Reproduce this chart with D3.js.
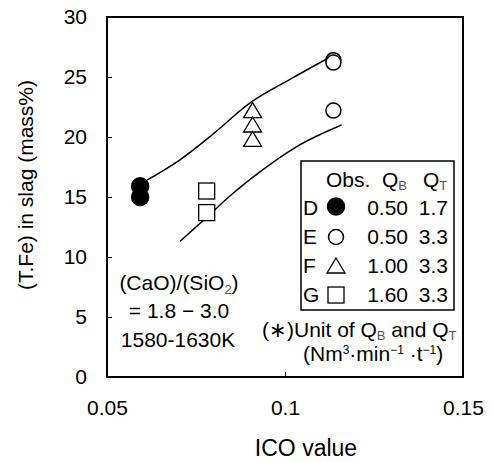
<!DOCTYPE html>
<html>
<head>
<meta charset="utf-8">
<script src="https://cdn.jsdelivr.net/npm/d3@7"></script>
<style>
  body { margin: 0; background: #fff; }
  svg text { font-family: "Liberation Sans", Arial, sans-serif; fill: #000; }
</style>
</head>
<body>
<script>
// observed points, ICO value vs (T.Fe) mass%
var obsD = [[0.0593, 15.9], [0.0593, 15.0]];
var obsE = [[0.1136, 26.4], [0.1136, 26.2], [0.1136, 22.2]];
var obsF = [[0.0909, 22.2], [0.0909, 21.0], [0.0909, 19.8]];
var obsG = [[0.078, 15.5], [0.078, 13.7]];

// fitted curves
var upperCurve = [[0.0612, 16.4], [0.0705, 18.1], [0.080, 20.3], [0.090, 22.8], [0.1014, 24.8], [0.1117, 26.5]];
var lowerCurve = [[0.0705, 11.3], [0.078, 13.3], [0.0846, 15.1], [0.0939, 17.3], [0.1033, 19.2], [0.1159, 21.0]];

var xTicks = [0.05, 0.1, 0.15];
var yTicks = [0, 5, 10, 15, 20, 25, 30];

var legendRows = [
  {id: "D", shape: "filled", qb: "0.50", qt: "1.7"},
  {id: "E", shape: "circle", qb: "0.50", qt: "3.3"},
  {id: "F", shape: "triangle", qb: "1.00", qt: "3.3"},
  {id: "G", shape: "square", qb: "1.60", qt: "3.3"}
];

var margin = {top: 17, right: 30, bottom: 85, left: 107},
    width = 493 - margin.left - margin.right,
    height = 462 - margin.top - margin.bottom;

var svg = d3.select("body").append("svg")
    .attr("width", 493)
    .attr("height", 462);

var g = svg.append("g")
    .attr("transform", "translate(" + margin.left + "," + margin.top + ")");

var x = d3.scaleLinear().domain([0.05, 0.15]).range([0, width]);
var y = d3.scaleLinear().domain([0, 30]).range([height, 0]);

// axes with inward ticks
var yAxis = g.append("g")
    .call(d3.axisLeft(y).tickValues(yTicks).tickSize(-5).tickSizeOuter(0).tickPadding(20));
yAxis.select(".domain").remove();
yAxis.selectAll("text").style("font-size", "21px");

var xAxis = g.append("g")
    .attr("transform", "translate(0," + height + ")")
    .call(d3.axisBottom(x).tickValues(xTicks).tickFormat(function(d) { return String(d); })
      .tickSize(-5).tickSizeOuter(0).tickPadding(23));
xAxis.select(".domain").remove();
xAxis.selectAll("text").style("font-size", "21px");

// frame
g.append("rect")
    .attr("width", width)
    .attr("height", height)
    .attr("fill", "none")
    .attr("stroke", "#000")
    .attr("stroke-width", 2);

// curves
var line = d3.line()
    .x(function(d) { return x(d[0]); })
    .y(function(d) { return y(d[1]); })
    .curve(d3.curveMonotoneX);

g.selectAll(".curve")
    .data([upperCurve, lowerCurve])
  .enter().append("path")
    .attr("class", "curve")
    .attr("d", line)
    .attr("fill", "none")
    .attr("stroke", "#000")
    .attr("stroke-width", 1.5);

// markers
function drawMarker(sel, shape) {
  if (shape === "filled" || shape === "circle") {
    sel.append("circle")
      .attr("r", shape === "filled" ? 8.5 : 7.5)
      .attr("fill", shape === "filled" ? "#000" : "#fff")
      .attr("stroke", "#000")
      .attr("stroke-width", 1.5);
  } else if (shape === "triangle") {
    sel.append("path")
      .attr("d", "M0,-8L9,7L-9,7Z")
      .attr("fill", "#fff")
      .attr("stroke", "#000")
      .attr("stroke-width", 1.3);
  } else {
    sel.append("rect")
      .attr("x", -8).attr("y", -8)
      .attr("width", 16).attr("height", 16)
      .attr("fill", "#fff")
      .attr("stroke", "#000")
      .attr("stroke-width", 1.3);
  }
}

[[obsG, "square"], [obsF, "triangle"], [obsE, "circle"], [obsD, "filled"]].forEach(function(s) {
  g.append("g").selectAll("g")
      .data(s[0])
    .enter().append("g")
      .attr("transform", function(d) { return "translate(" + x(d[0]) + "," + y(d[1]) + ")"; })
      .each(function() { drawMarker(d3.select(this), s[1]); });
});

// axis titles
svg.append("text")
    .attr("x", 306)
    .attr("y", 456)
    .attr("text-anchor", "middle")
    .style("font-size", "23px")
    .text("ICO value");

svg.append("text")
    .attr("transform", "translate(33,185) rotate(-90)")
    .attr("text-anchor", "middle")
    .style("font-size", "21px")
    .text("(T.Fe) in slag (mass%)");

// conditions note
var note = svg.append("g").style("font-size", "21px");
var t1 = note.append("text").attr("x", 179).attr("y", 290).attr("text-anchor", "middle");
t1.append("tspan").text("(CaO)/(SiO");
t1.append("tspan").attr("dy", 4).style("font-size", "13px").attr("fill", "#555").text("2");
t1.append("tspan").attr("dy", -4).text(")");
note.append("text").attr("x", 179).attr("y", 318).attr("text-anchor", "middle").text("= 1.8 \u2212 3.0");
note.append("text").attr("x", 178).attr("y", 347).attr("text-anchor", "middle").text("1580-1630K");

// legend table
var lg = svg.append("g").style("font-size", "21px");
lg.append("rect")
    .attr("x", 301).attr("y", 161)
    .attr("width", 153).attr("height", 149)
    .attr("fill", "#fff")
    .attr("stroke", "#000")
    .attr("stroke-width", 1.5);

lg.append("text").attr("x", 326).attr("y", 187).text("Obs.");
var qb = lg.append("text").attr("x", 382).attr("y", 187);
qb.append("tspan").text("Q");
qb.append("tspan").attr("dy", 3).style("font-size", "13px").attr("fill", "#555").text("B");
var qt = lg.append("text").attr("x", 423).attr("y", 187);
qt.append("tspan").text("Q");
qt.append("tspan").attr("dy", 3).style("font-size", "13px").attr("fill", "#555").text("T");

var row = lg.selectAll(".row")
    .data(legendRows)
  .enter().append("g")
    .attr("class", "row")
    .attr("transform", function(d, i) { return "translate(0," + (215 + i * 29) + ")"; });

row.append("text").attr("x", 303).text(function(d) { return d.id; });
row.append("g")
    .attr("transform", function(d) { return "translate(336," + (d.shape === "filled" ? -8.5 : -7) + ")"; })
    .each(function(d) { drawMarker(d3.select(this), d.shape); });
row.append("text").attr("x", 408).attr("text-anchor", "end").text(function(d) { return d.qb; });
row.append("text").attr("x", 448).attr("text-anchor", "end").text(function(d) { return d.qt; });

// unit footnote
var f1 = lg.append("text").attr("x", 262).attr("y", 337);
f1.append("tspan").text("(\u2217)Unit of Q");
f1.append("tspan").attr("dy", 3).style("font-size", "13px").attr("fill", "#555").text("B");
f1.append("tspan").attr("dy", -3).text(" and Q");
f1.append("tspan").attr("dy", 3).style("font-size", "13px").attr("fill", "#555").text("T");

var f2 = lg.append("text").attr("x", 303).attr("y", 361);
f2.append("tspan").text("(Nm");
f2.append("tspan").attr("dy", -7).style("font-size", "12px").text("3");
f2.append("tspan").attr("dy", 7).text("\u00b7min");
f2.append("tspan").attr("dy", -7).style("font-size", "12px").text("\u22121");
f2.append("tspan").attr("dy", 7).text(" \u00b7t");
f2.append("tspan").attr("dy", -7).style("font-size", "12px").text("\u22121");
f2.append("tspan").attr("dy", 7).text(")");
</script>
</body>
</html>
